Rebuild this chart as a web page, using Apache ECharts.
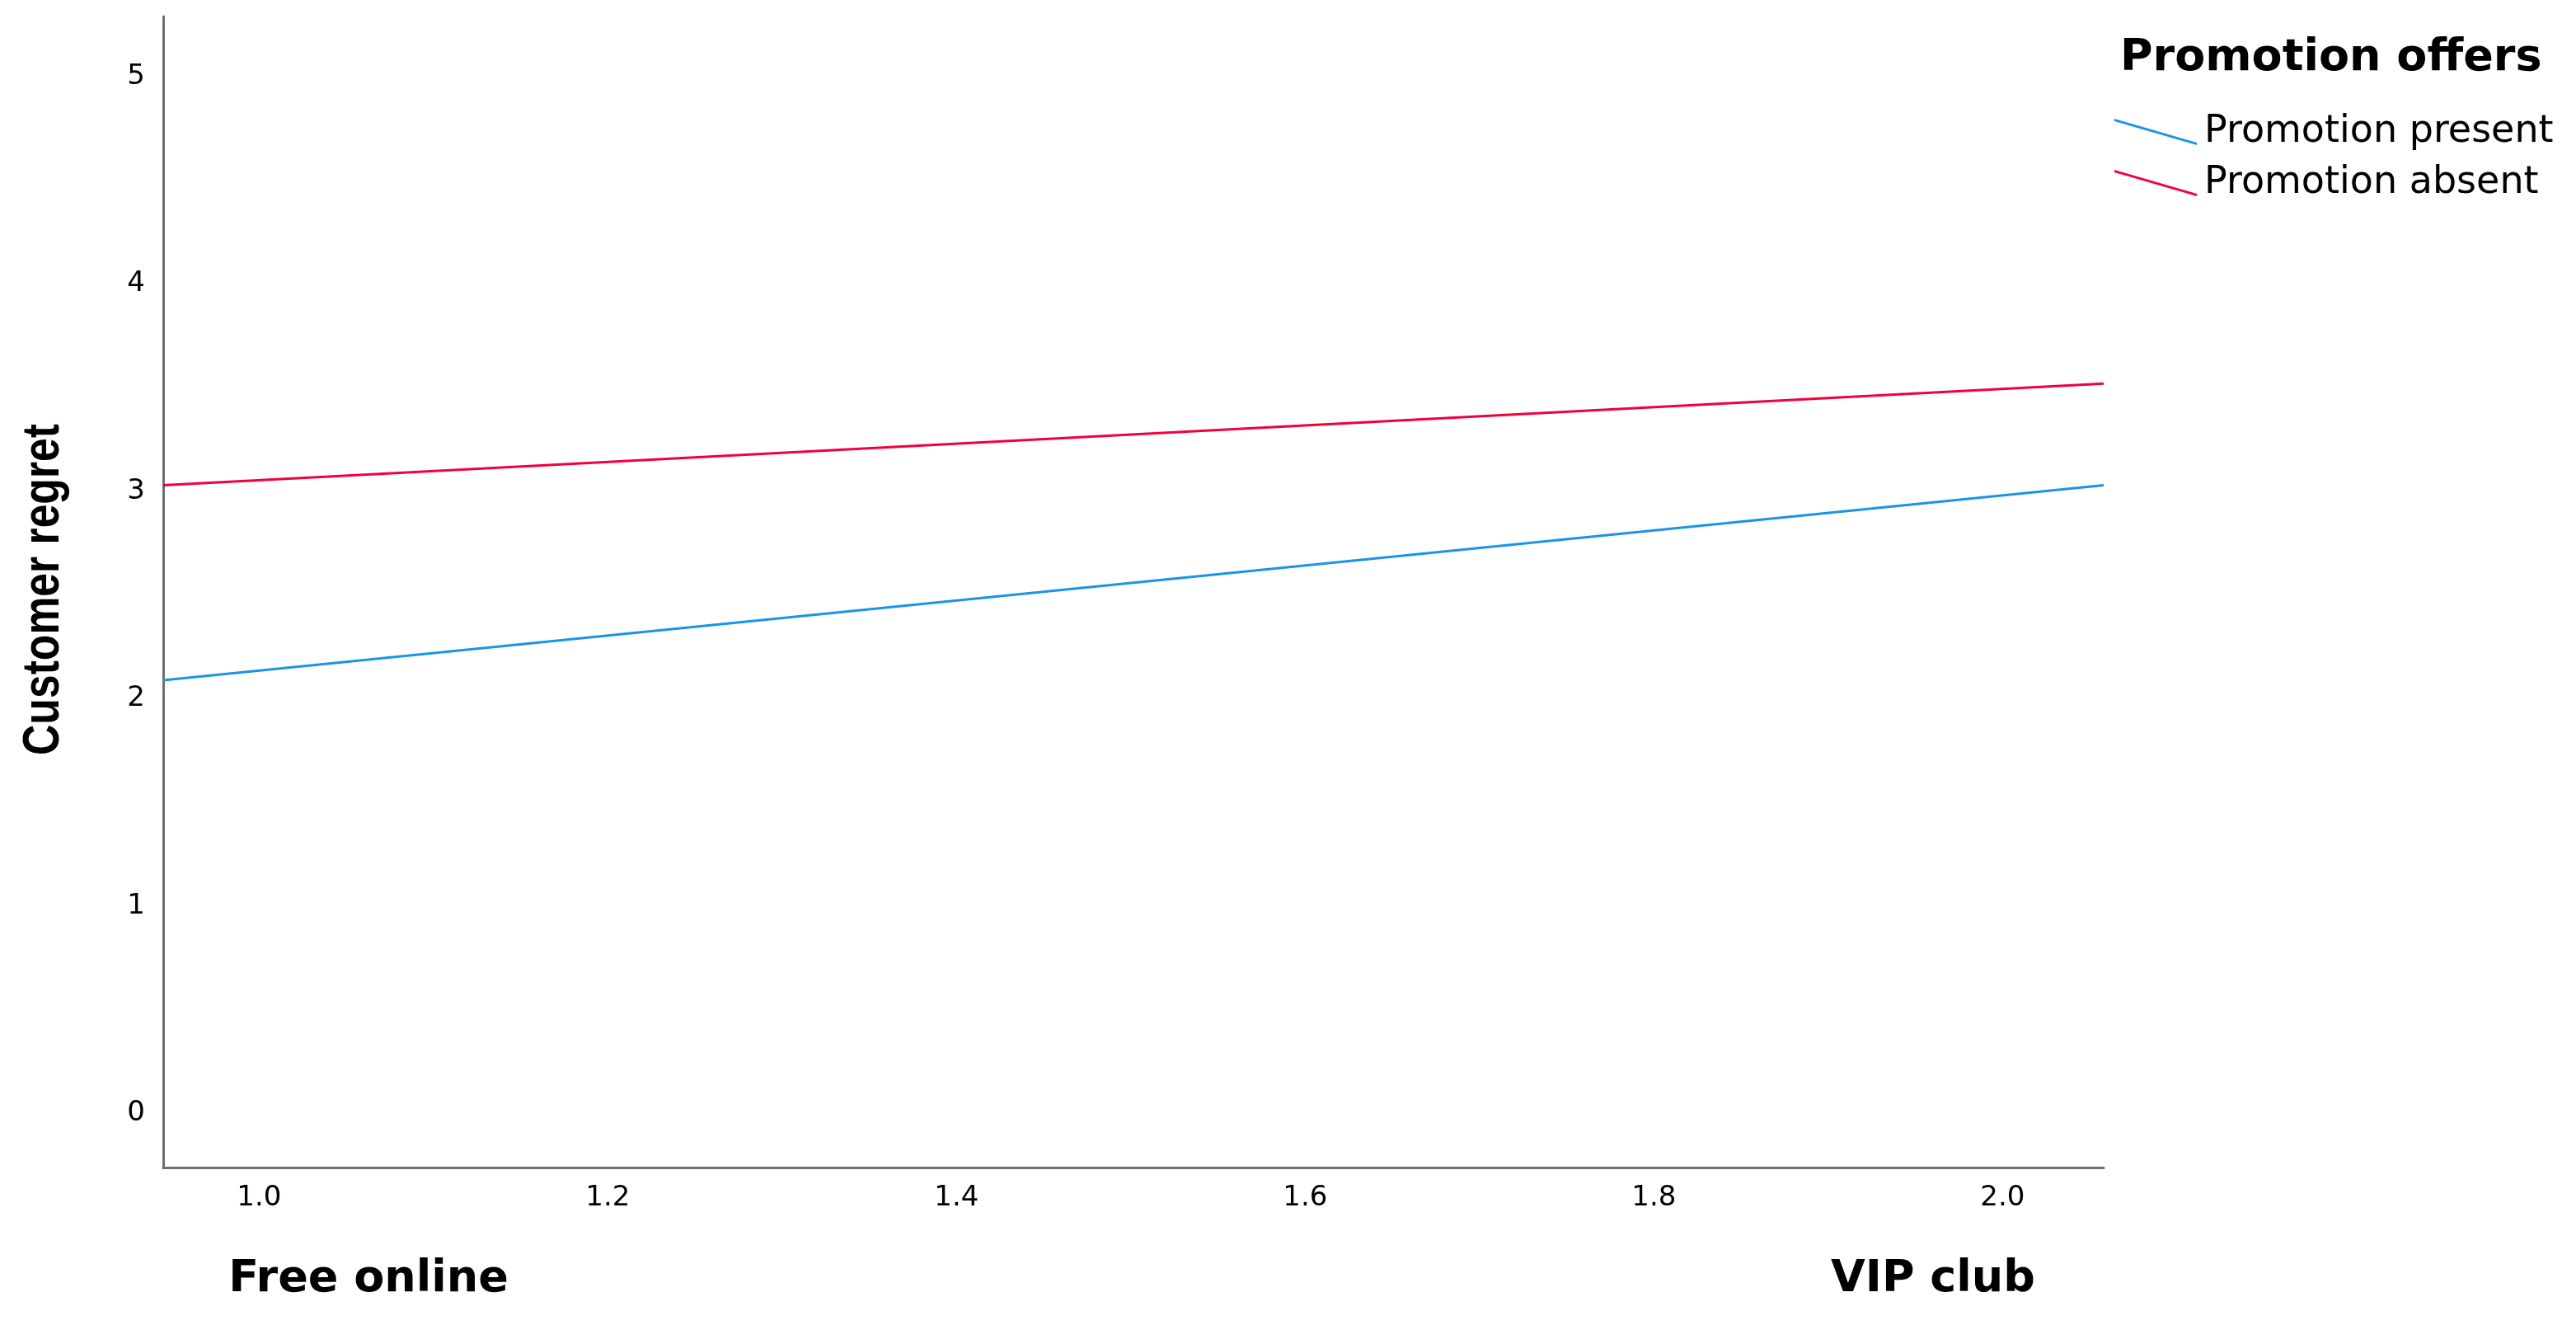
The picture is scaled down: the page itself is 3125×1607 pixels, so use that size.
<!DOCTYPE html>
<html>
<head>
<meta charset="utf-8">
<script src="https://cdn.jsdelivr.net/npm/echarts@6/dist/echarts.min.js"></script>
<style>
  html, body { margin: 0; padding: 0; background: #fff; }
  #chart { width: 3125px; height: 1607px; }
</style>
</head>
<body>
<div id="chart"></div>
<script>
// line ends sit on the x-axis extent
const xValues = [0.945, 2.058];
const promotionPresent = [2.09, 3.03];
const promotionAbsent = [3.03, 3.52];
const seriesNames = ['Promotion present', 'Promotion absent'];
const xTicks = [1.0, 1.2, 1.4, 1.6, 1.8, 2.0];
const yTicks = [0, 1, 2, 3, 4, 5];
const groupLabels = ['Free online', 'VIP club'];

const axisColor = '#6f6f6f';
const tickFont = 'DejaVu Sans';
const legendIcon = 'path://M0,0L97,28L97,31L0,3Z';

var myChart = echarts.init(document.getElementById('chart'));

let option = {
  animation: false,
  backgroundColor: '#fff',
  grid: { left: 198, right: 573, top: 20, bottom: 191 },
  legend: {
    data: seriesNames,
    orient: 'vertical',
    left: 2560,
    top: 132,
    itemWidth: 108,
    itemHeight: 32,
    itemGap: 16,
    icon: legendIcon,
    selectedMode: false,
    textStyle: { fontSize: 46, fontFamily: tickFont, color: '#000' }
  },
  xAxis: {
    type: 'value',
    min: xValues[0],
    max: xValues[1],
    axisLine: { show: true, onZero: false, lineStyle: { color: axisColor, width: 3 } },
    axisTick: { show: false },
    splitLine: { show: false },
    axisLabel: {
      customValues: xTicks,
      formatter: v => v.toFixed(1),
      fontSize: 34,
      fontFamily: tickFont,
      color: '#000',
      margin: 20
    }
  },
  yAxis: {
    type: 'value',
    min: -0.26,
    max: 5.29,
    axisLine: { show: true, onZero: false, lineStyle: { color: axisColor, width: 3 } },
    axisTick: { show: false },
    splitLine: { show: false },
    axisLabel: {
      customValues: yTicks,
      fontSize: 34,
      fontFamily: tickFont,
      color: '#000',
      margin: 22
    }
  },
  graphic: [
    {
      // y axis title, condensed by squeezing along the text
      type: 'text', x: 54, y: 715, rotation: Math.PI / 2, scaleX: 0.82,
      style: { text: 'Customer regret', fontSize: 63, fontWeight: 'bold', fontFamily: 'Liberation Sans', fill: '#000', align: 'center', verticalAlign: 'middle' }
    },
    {
      type: 'text', left: 2572, top: 44,
      style: { text: 'Promotion offers', fontSize: 54, fontWeight: 'bold', fontFamily: tickFont, fill: '#000' }
    },
    {
      type: 'text', x: 447, y: 1552,
      style: { text: groupLabels[0], fontSize: 54, fontWeight: 'bold', fontFamily: tickFont, fill: '#000', align: 'center', verticalAlign: 'middle' }
    },
    {
      type: 'text', x: 2345, y: 1552,
      style: { text: groupLabels[1], fontSize: 54, fontWeight: 'bold', fontFamily: tickFont, fill: '#000', align: 'center', verticalAlign: 'middle' }
    }
  ],
  series: [
    {
      name: seriesNames[0],
      type: 'line',
      showSymbol: false,
      color: '#1a94e8',
      lineStyle: { width: 3, color: '#1a94e8' },
      data: xValues.map((x, i) => [x, promotionPresent[i]])
    },
    {
      name: seriesNames[1],
      type: 'line',
      showSymbol: false,
      color: '#f2003c',
      lineStyle: { width: 3, color: '#f2003c' },
      data: xValues.map((x, i) => [x, promotionAbsent[i]])
    }
  ]
};

option && myChart.setOption(option);
</script>
</body>
</html>
